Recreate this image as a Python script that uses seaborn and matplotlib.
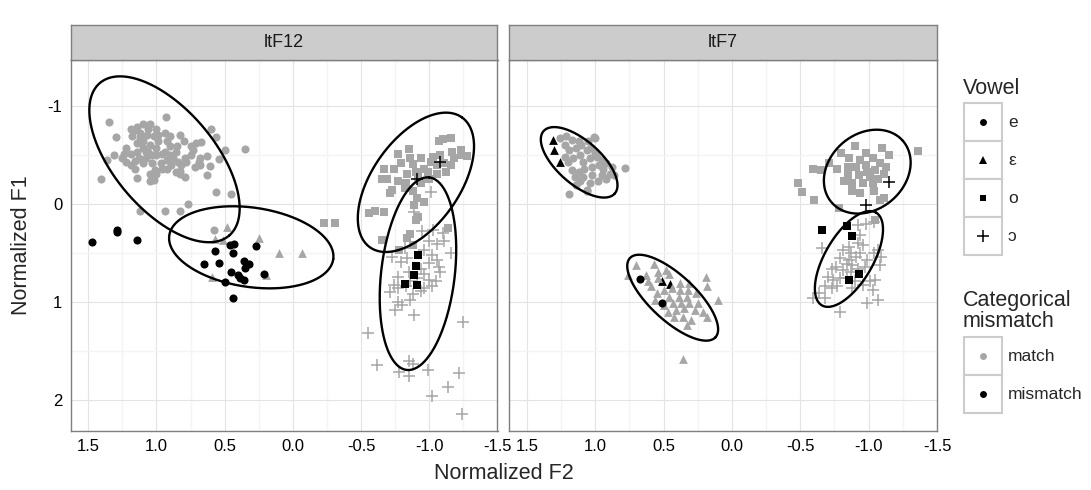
import numpy as np
import pandas as pd
import matplotlib
matplotlib.use("Agg")
import matplotlib.pyplot as plt
from matplotlib.patches import Rectangle
import seaborn as sns

sns.set_theme(style="white")
plt.rcParams["font.family"] = ["Liberation Sans", "DejaVu Sans"]
plt.rcParams["axes.unicode_minus"] = False

# ---------------- data ----------------
speakers = ["ltF12", "ltF7"]
vowels = ["e", "ε", "o", "ɔ"]
match_levels = ["match", "mismatch"]
x_ticks = [1.5, 1.0, 0.5, 0.0, -0.5, -1.0, -1.5]
x_tick_labels = ["1.5", "1.0", "0.5", "0.0", "-0.5", "-1.0", "-1.5"]
y_ticks = [-1, 0, 1, 2]
y_tick_labels = ["-1", "0", "1", "2"]

# (Normalized F2, Normalized F1)
f12_e_match = [(1.35,-0.84),(0.93,-0.89),(1.30,-0.68),(0.60,-0.77),(0.56,-0.68),(0.35,-0.56),(1.41,-0.25),(1.31,-0.50),
    (1.36,-0.45),(1.22,-0.43),(1.16,-0.44),(1.16,-0.36),(1.14,-0.27),(1.05,-0.23),(1.02,-0.24),(1.00,-0.31),(0.83,-0.34),
    (0.79,-0.28),(0.83,-0.31),(0.78,-0.43),(0.69,-0.43),(0.68,-0.40),(0.63,-0.30),(0.61,-0.39),(0.63,-0.49),(0.54,-0.46),
    (0.50,-0.55),(0.71,-0.62),(0.67,-0.63),(0.56,-0.12),(0.45,-0.10),(0.77,0.00),(0.90,-0.69),(0.92,-0.64),(0.83,-0.70),
    (0.80,-0.64),(0.86,-0.53),(0.88,-0.47),(0.92,-0.45),(0.96,-0.51),(1.00,-0.57),(1.05,-0.60),(1.10,-0.57),(1.14,-0.53),
    (1.19,-0.51),(1.24,-0.51),(1.12,-0.67),(1.17,-0.74),(1.14,-0.79),(1.10,-0.82),(1.05,-0.82),(1.00,-0.77),(0.99,-0.70),
    (1.02,-0.69),(1.07,-0.70),(1.12,-0.72),(1.18,-0.69),(1.19,-0.77),(1.06,-0.76),(0.99,-0.64),(1.03,-0.50),(1.08,-0.47),
    (1.10,-0.42),(0.97,-0.42),(0.92,-0.36),(0.89,-0.40),(0.84,-0.43),(0.79,-0.47),(0.75,-0.50),(0.73,-0.55),(0.75,-0.59),
    (0.85,-0.59),(0.94,-0.53),(0.90,-0.59),(0.96,-0.36),(0.86,-0.33),(1.01,-0.35),(1.05,-0.31),(1.08,-0.53),(1.00,-0.50),
    (1.13,-0.47),(0.82,-0.40),(0.72,-0.38),(0.68,-0.47),(0.90,-0.50),(1.03,-0.42),(0.94,-0.72),(1.10,-0.64),(1.06,-0.53),
    (1.14,-0.62),(1.22,-0.57),(1.25,-0.47),(1.19,-0.40),(0.83,0.07),(0.94,0.07),(1.12,0.07),(0.58,0.27)]
f12_e_mismatch = [(1.47,0.39),(1.29,0.27),(1.29,0.29),(1.14,0.37),(0.57,0.48),(0.46,0.42),(0.43,0.41),(0.44,0.50),
    (0.27,0.43),(0.65,0.61),(0.54,0.60),(0.36,0.58),(0.32,0.61),(0.35,0.65),(0.45,0.69),(0.40,0.72),(0.39,0.75),
    (0.36,0.78),(0.50,0.80),(0.21,0.71),(0.44,0.96)]
f12_eps_match = [(0.48,0.23),(0.57,0.36),(0.51,0.37),(0.25,0.35),(0.10,0.50),(-0.07,0.50),(0.59,0.74),(0.20,0.72)]
f12_o_match = [(-1.10,-0.66),(-1.16,-0.67),(-1.07,-0.64),(-1.23,-0.55),(-1.28,-0.49),(-0.85,-0.56),(-0.77,-0.51),
    (-0.79,-0.42),(-0.88,-0.41),(-0.94,-0.47),(-1.01,-0.43),(-1.06,-0.40),(-1.11,-0.42),(-1.16,-0.40),(-1.18,-0.47),
    (-1.23,-0.50),(-1.17,-0.53),(-1.08,-0.50),(-1.03,-0.48),(-0.96,-0.36),(-0.90,-0.33),(-0.84,-0.31),(-0.74,-0.36),
    (-0.67,-0.36),(-0.69,-0.25),(-0.65,-0.26),(-0.77,-0.23),(-0.83,-0.21),(-0.94,-0.21),(-1.00,-0.26),(-1.06,-0.31),
    (-1.12,-0.33),(-0.92,-0.28),(-0.99,-0.33),(-0.71,-0.11),(-0.73,-0.14),(-0.82,-0.16),(-0.88,-0.13),(-0.91,-0.06),
    (-0.89,0.01),(-0.56,0.09),(-0.60,0.07),(-0.96,-0.02),(-1.03,-0.43),(-0.86,-0.47),(-0.23,0.19),(-0.31,0.19),
    (-0.67,0.08),(-0.90,0.16),(-0.92,0.13),(-0.65,0.37),(-0.84,0.35),(-0.86,0.31),(-0.78,0.47),(-0.88,0.42),(-1.14,0.25)]
f12_o_mismatch = [(-0.92,0.52),(-0.90,0.63),(-0.89,0.72),(-0.82,0.82),(-0.91,0.83)]
f12_c_match = [(-1.03,0.27),(-1.10,0.30),(-0.95,0.28),(-1.00,0.38),(-1.06,0.41),(-1.16,0.50),(-0.96,0.47),(-1.02,0.52),
    (-1.06,0.57),(-1.00,0.60),(-1.07,0.64),(-0.84,0.55),(-0.79,0.59),(-0.77,0.74),(-0.85,0.69),(-0.94,0.66),(-0.96,0.71),
    (-1.00,0.78),(-1.05,0.79),(-1.02,0.84),(-0.96,0.86),(-0.88,0.92),(-0.83,0.84),(-0.74,0.83),(-0.71,0.90),(-0.77,1.00),
    (-0.80,1.03),(-0.75,1.08),(-0.86,0.98),(-0.89,1.13),(-1.25,1.20),(-0.55,1.32),(-0.73,0.54),(-0.82,0.45),(-1.11,0.38),
    (-0.91,0.76),(-0.86,0.79),(-0.77,0.86),(-0.94,0.89),(-1.08,0.69),(-0.62,1.64),(-0.85,1.60),(-0.88,1.63),(-0.78,1.71),
    (-0.85,1.75),(-0.99,1.69),(-1.22,1.72),(-1.14,1.87),(-1.02,1.96),(-1.24,2.14),(-1.01,-0.12),(-0.89,0.08)]
f12_c_mismatch = [(-1.08,-0.43),(-0.91,-0.25)]

f7_e_match = [(1.26,-0.67),(1.21,-0.69),(1.17,-0.65),(1.22,-0.60),(1.19,-0.55),(1.14,-0.57),(1.10,-0.60),(1.06,-0.55),
    (1.03,-0.57),(1.00,-0.67),(1.11,-0.50),(1.16,-0.47),(1.20,-0.43),(1.22,-0.48),(1.09,-0.43),(1.04,-0.47),(0.99,-0.48),
    (0.95,-0.45),(0.92,-0.42),(0.88,-0.38),(0.94,-0.36),(1.02,-0.38),(1.08,-0.36),(1.12,-0.33),(1.17,-0.35),(1.15,-0.28),
    (1.09,-0.28),(1.02,-0.30),(0.95,-0.30),(0.89,-0.31),(0.86,-0.30),(0.92,-0.25),(0.98,-0.23),(1.04,-0.21),(1.11,-0.23),
    (1.14,-0.19),(1.06,-0.14),(0.78,-0.37),(1.00,-0.52),(1.05,-0.64),(1.12,-0.64),(0.97,-0.40),(1.19,-0.10),(1.06,-0.13),
    (1.01,-0.68)]
f7_e_mismatch = [(0.67,0.77),(0.51,1.01)]
f7_eps_match = [(0.76,0.72),(0.70,0.62),(0.57,0.61),(0.48,0.67),(0.46,0.71),(0.54,0.76),(0.61,0.79),(0.59,0.84),
    (0.55,0.91),(0.50,0.88),(0.44,0.86),(0.38,0.81),(0.31,0.81),(0.19,0.74),(0.18,0.84),(0.26,0.91),(0.33,0.95),
    (0.39,0.95),(0.46,0.95),(0.43,1.01),(0.37,1.01),(0.31,1.01),(0.25,1.01),(0.41,1.08),(0.35,1.06),(0.27,1.08),
    (0.21,1.10),(0.47,1.10),(0.42,1.15),(0.36,1.15),(0.30,1.18),(0.33,1.23),(0.10,0.98),(0.54,0.69),(0.63,0.72),
    (0.56,0.98),(0.50,1.03),(0.38,0.88),(0.32,0.88),(0.18,1.15),(0.36,1.58)]
f7_eps_mismatch = [(1.31,-0.65),(1.30,-0.55),(1.26,-0.43),(0.51,0.79),(0.45,0.82)]
f7_o_match = [(-0.48,-0.21),(-0.51,-0.12),(-0.60,-0.04),(-0.59,-0.36),(-0.65,-0.35),(-0.78,0.04),(-0.71,-0.42),
    (-0.80,-0.52),(-0.90,-0.59),(-0.98,-0.52),(-1.10,-0.57),(-1.15,-0.50),(-1.36,-0.54),(-0.86,-0.47),(-0.94,-0.45),
    (-1.03,-0.47),(-1.08,-0.42),(-1.13,-0.38),(-0.77,-0.36),(-0.85,-0.38),(-0.91,-0.38),(-0.98,-0.40),(-1.05,-0.35),
    (-1.11,-0.31),(-0.85,-0.30),(-0.93,-0.30),(-1.01,-0.28),(-1.07,-0.26),(-0.88,-0.21),(-0.96,-0.21),(-1.03,-0.21),
    (-0.88,-0.13),(-0.94,-0.11),(-1.04,-0.13),(-1.08,-0.04),(-1.11,-0.06),(-0.82,-0.23),(-0.99,-0.33),(-1.05,0.16)]
f7_o_mismatch = [(-0.66,0.27),(-0.84,0.22),(-0.88,0.33),(-0.93,0.71),(-0.86,0.78)]
f7_c_match = [(-0.92,0.21),(-0.98,0.20),(-1.04,0.18),(-0.94,0.32),(-0.92,0.40),(-0.96,0.42),(-0.86,0.44),(-0.81,0.47),
    (-0.87,0.50),(-0.91,0.54),(-0.94,0.50),(-0.79,0.55),(-0.84,0.61),(-0.88,0.62),(-0.76,0.64),(-0.73,0.66),(-0.81,0.67),
    (-0.87,0.69),(-0.92,0.66),(-0.97,0.64),(-0.99,0.57),(-1.04,0.50),(-1.09,0.54),(-0.70,0.74),(-0.74,0.78),(-0.79,0.76),
    (-0.84,0.76),(-0.90,0.79),(-0.68,0.84),(-0.73,0.86),(-0.64,0.91),(-0.59,0.96),(-0.68,0.96),(-0.77,0.84),(-0.88,0.86),
    (-0.96,0.83),(-1.01,0.79),(-1.05,0.78),(-1.03,0.88),(-1.07,0.98),(-0.99,1.01),(-0.79,1.10),(-0.86,0.57),(-0.66,0.45),
    (-1.07,0.47),(-1.08,0.62)]
f7_c_mismatch = [(-1.15,-0.22),(-0.98,0.01)]

# ellipse outlines: centre plus two conjugate semi-diameters (data units)
ell_speaker = ["ltF12", "ltF12", "ltF12", "ltF12", "ltF7", "ltF7", "ltF7", "ltF7"]
ell_vowel = ["e", "ε", "o", "ɔ", "e", "ε", "o", "ɔ"]
ell_cx = [0.941, 0.305, -0.902, -0.917, 1.117, 0.433, -0.990, -0.856]
ell_cy = [-0.456, 0.442, -0.221, 0.711, -0.425, 0.956, -0.330, 0.561]
ell_ux = [-0.474, -0.601, -0.3375, -0.0827, -0.260, -0.3125, -0.2606, -0.198]
ell_uy = [0.778, 0.121, -0.6625, -0.982, 0.319, 0.4044, -0.3141, -0.473]
ell_vx = [0.281, 0.0415, -0.260, -0.268, 0.105, 0.1132, -0.181, -0.1513]
ell_vy = [0.333, 0.401, 0.258, 0.0439, 0.166, 0.1693, 0.2906, 0.1225]

groups = [
    ("ltF12", "e", "match", f12_e_match), ("ltF12", "ε", "match", f12_eps_match),
    ("ltF12", "o", "match", f12_o_match), ("ltF12", "ɔ", "match", f12_c_match),
    ("ltF12", "e", "mismatch", f12_e_mismatch), ("ltF12", "o", "mismatch", f12_o_mismatch),
    ("ltF12", "ɔ", "mismatch", f12_c_mismatch),
    ("ltF7", "ε", "mismatch", f7_eps_mismatch),
    ("ltF7", "e", "match", f7_e_match), ("ltF7", "ε", "match", f7_eps_match),
    ("ltF7", "o", "match", f7_o_match), ("ltF7", "ɔ", "match", f7_c_match),
    ("ltF7", "e", "mismatch", f7_e_mismatch), ("ltF7", "o", "mismatch", f7_o_mismatch),
    ("ltF7", "ɔ", "mismatch", f7_c_mismatch),
]
rows = []
for order, (spk, v, m, pts) in enumerate(groups):
    for (f2, f1) in pts:
        rows.append({"speaker": spk, "vowel": v, "match": m, "F2": f2, "F1": f1, "order": order})
df = pd.DataFrame(rows)

# ---------------- style ----------------
GRAY = "#A6A6A6"
colors = {"match": GRAY, "mismatch": "black"}
markers = {"e": "o", "ε": "^", "o": "s", "ɔ": "+"}
sizes = {"e": 34, "ε": 40, "o": 30, "ɔ": 72}

W, H = 1091, 490
fig = plt.figure(figsize=(W / 100, H / 100), dpi=100)
fig.patch.set_facecolor("white")

panel_left = [70.5, 509]
panel_w = [427, 428]
p_top, p_bot = 60, 431
strip_top = 25

for i, spk in enumerate(speakers):
    ax = fig.add_axes([panel_left[i] / W, (H - p_bot) / H, panel_w[i] / W, (p_bot - p_top) / H])
    sub = df[df.speaker == spk]
    for order in sorted(sub.order.unique()):
        d = sub[sub.order == order]
        v = d.vowel.iloc[0]
        m = d.match.iloc[0]
        if markers[v] == "+":
            sns.scatterplot(data=d, x="F2", y="F1", marker="+", color=colors[m], s=sizes[v],
                            linewidth=1.1, ax=ax, legend=False, zorder=3)
        else:
            sns.scatterplot(data=d, x="F2", y="F1", marker=markers[v], color=colors[m], s=sizes[v],
                            linewidth=0, ax=ax, legend=False, zorder=3)
    t = np.linspace(0, 2 * np.pi, 300)
    for j in range(len(ell_speaker)):
        if ell_speaker[j] != spk:
            continue
        ex = ell_cx[j] + ell_ux[j] * np.cos(t) + ell_vx[j] * np.sin(t)
        ey = ell_cy[j] + ell_uy[j] * np.cos(t) + ell_vy[j] * np.sin(t)
        ax.plot(ex, ey, color="black", lw=1.7, zorder=4)

    ax.set_xlim(1.63, -1.5)
    ax.set_ylim(2.316, -1.469)
    ax.set_xticks(x_ticks)
    ax.set_xticklabels(x_tick_labels)
    ax.set_xticks([1.25, 0.75, 0.25, -0.25, -0.75, -1.25], minor=True)
    ax.set_yticks(y_ticks)
    ax.set_yticks([-0.5, 0.5, 1.5], minor=True)
    if i == 0:
        ax.set_yticklabels(y_tick_labels)
    else:
        ax.set_yticklabels([])
    ax.set_xlabel("")
    ax.set_ylabel("")
    ax.grid(which="major", color="#E3E3E3", lw=0.8)
    ax.grid(which="minor", color="#F4F4F4", lw=1.0)
    ax.set_axisbelow(True)
    ax.tick_params(which="minor", length=0)
    ax.tick_params(axis="both", which="major", labelsize=12, length=3.5, width=0.9,
                   color="#333333", pad=2.5, labelcolor="black")
    if i == 1:
        ax.tick_params(axis="y", which="major", length=0)
    for sp in ax.spines.values():
        sp.set_color("#7F7F7F")
        sp.set_linewidth(1.0)
        sp.set_visible(True)

    sax = fig.add_axes([panel_left[i] / W, (H - p_top) / H, panel_w[i] / W, (p_top - strip_top) / H])
    sax.set_facecolor("#CCCCCC")
    sax.set_xticks([])
    sax.set_yticks([])
    for sp in sax.spines.values():
        sp.set_color("#7F7F7F")
        sp.set_linewidth(1.0)
    sax.text(0.5, 0.5, spk, ha="center", va="center", fontsize=13, color="#1A1A1A",
             transform=sax.transAxes)

fig.text(503.5 / W, 1 - 473 / H, "Normalized F2", ha="center", va="center", fontsize=15.5)
fig.text(22 / W, 1 - 245.5 / H, "Normalized F1", ha="center", va="center", fontsize=15.5, rotation=90)

# ---------------- legend ----------------
lax = fig.add_axes([0, 0, 1, 1], facecolor="none")
lax.set_xlim(0, W)
lax.set_ylim(H, 0)
lax.axis("off")
key_left, key_size = 964, 38
lab_x = 1008
lax.text(key_left - 1, 88, "Vowel", fontsize=15.5, ha="left", va="center")
vowel_tops = [103, 141, 179, 217]
for k, v in enumerate(vowels):
    top = vowel_tops[k]
    lax.add_patch(Rectangle((key_left, top), key_size, key_size, facecolor="white",
                            edgecolor="#CCCCCC", lw=1.5))
    cx, cy = key_left + key_size / 2, top + key_size / 2
    if markers[v] == "+":
        lax.plot([cx], [cy], marker="+", color="black", markersize=9, mew=1.1)
    else:
        ms = {"o": 5, "^": 6, "s": 5}[markers[v]]
        lax.plot([cx], [cy], marker=markers[v], color="black", markersize=ms, mew=0)
    lax.text(lab_x, cy, v, fontsize=12.5, ha="left", va="center")

lax.text(key_left - 1, 332, "Categorical\nmismatch", fontsize=15.5, ha="left", va="bottom",
         linespacing=1.0)
match_tops = [337, 375]
for k, m in enumerate(match_levels):
    top = match_tops[k]
    lax.add_patch(Rectangle((key_left, top), key_size, key_size, facecolor="white",
                            edgecolor="#CCCCCC", lw=1.5))
    cx, cy = key_left + key_size / 2, top + key_size / 2
    lax.plot([cx], [cy], marker="o", color=colors[m], markersize=5, mew=0)
    lax.text(lab_x, cy, m, fontsize=12.5, ha="left", va="center")

fig.savefig("out.png", dpi=100)
